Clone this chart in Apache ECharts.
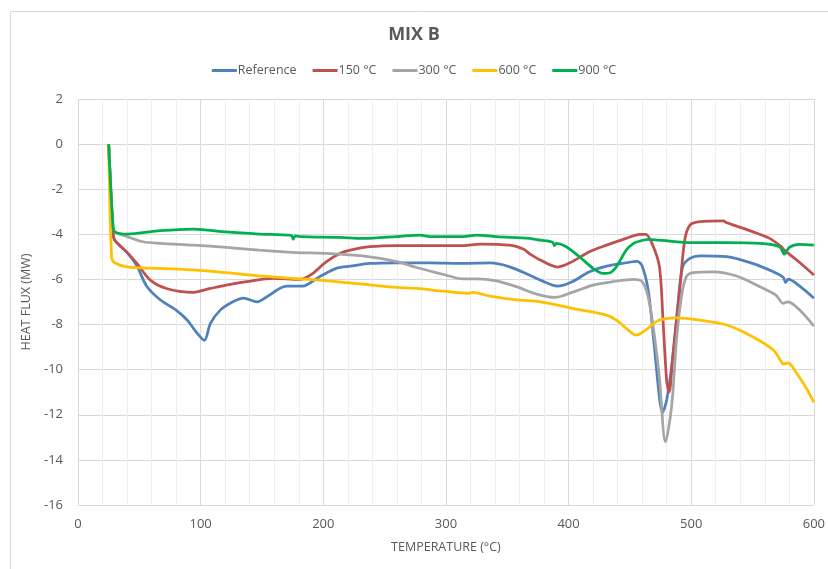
<!DOCTYPE html>
<html>
<head>
<meta charset="utf-8">
<script src="https://cdn.jsdelivr.net/npm/echarts@6/dist/echarts.min.js"></script>
<style>
  html, body { margin: 0; padding: 0; background: #fff; }
  #chart { width: 828px; height: 569px; }
</style>
</head>
<body>
<div id="chart"></div>
<script>
// Axis ranges and ticks
const xTicks = [0, 100, 200, 300, 400, 500, 600];
const yTicks = [-16, -14, -12, -10, -8, -6, -4, -2, 0, 2];

// Reference
const refTemp = [25, 28.5, 30, 40, 48, 56, 67, 80, 89, 96, 103, 108, 116, 126, 135, 146, 154, 170, 183, 197, 211, 222, 238, 260, 287, 314, 336, 352, 368, 377, 391, 403, 417, 431, 447, 456, 460, 465, 470, 474, 476.5, 480, 485, 489, 493, 499, 507, 529, 550, 567, 575, 577, 579, 589, 600];
const refFlux = [0, -3.9, -4.26, -4.8, -5.4, -6.3, -6.9, -7.36, -7.8, -8.3, -8.7, -7.95, -7.36, -7.0, -6.83, -6.99, -6.77, -6.3, -6.3, -5.88, -5.5, -5.41, -5.29, -5.26, -5.26, -5.29, -5.27, -5.44, -5.8, -6.03, -6.3, -6.1, -5.66, -5.41, -5.26, -5.2, -5.4, -6.5, -9.0, -11.2, -11.9, -11.35, -9.43, -7.2, -5.44, -5.07, -4.95, -4.99, -5.29, -5.66, -5.9, -6.14, -5.99, -6.32, -6.83];

// 150 °C
const t150Temp = [25, 28.5, 30, 40, 48, 59, 72, 94, 108, 121, 137.5, 159, 181, 191.5, 202.6, 213.5, 222, 238, 260, 287, 314, 328, 352, 363, 368, 377, 391, 403, 417, 431, 447, 458, 463, 468, 474, 477, 480, 482, 485, 490.6, 494.7, 499, 507, 526, 529, 550, 564, 573.5, 576, 586, 600];
const t150Flux = [0, -3.9, -4.26, -4.8, -5.29, -6.03, -6.4, -6.57, -6.4, -6.25, -6.1, -5.95, -6.0, -5.73, -5.21, -4.85, -4.7, -4.55, -4.5, -4.5, -4.5, -4.43, -4.48, -4.65, -4.85, -5.14, -5.45, -5.21, -4.77, -4.48, -4.18, -4.0, -4.0, -4.4, -5.4, -7.8, -10.5, -11.0, -9.4, -6.47, -4.26, -3.59, -3.44, -3.4, -3.49, -3.88, -4.18, -4.55, -4.7, -5.14, -5.8];

// 300 °C
const t300Temp = [25, 28.5, 30, 40, 53, 67, 94, 121, 148, 175, 205, 232, 260, 276, 298, 314, 325, 341, 357.5, 374, 389, 404, 420, 436, 453, 460, 465, 470, 474, 479, 484, 488, 492, 496, 501.5, 518, 537, 556, 569, 575, 579, 588.5, 600];
const t300Flux = [0, -3.6, -3.89, -4.1, -4.33, -4.4, -4.48, -4.58, -4.7, -4.8, -4.85, -4.96, -5.21, -5.47, -5.78, -5.98, -5.98, -6.06, -6.32, -6.65, -6.8, -6.55, -6.25, -6.1, -6.0, -6.1, -6.8, -8.5, -10.3, -13.2, -11.64, -8.69, -6.77, -5.88, -5.7, -5.66, -5.85, -6.32, -6.69, -7.06, -6.99, -7.36, -8.07];

// 600 °C
const t600Temp = [25, 27.4, 30, 40, 67, 94, 121, 148, 175, 203, 232, 260, 276, 298, 319, 322, 336, 358, 377, 404, 431, 439, 447, 455, 463, 471, 478, 488, 507, 529, 550, 567, 573.5, 575, 579, 586, 594, 600];
const t600Flux = [0, -5.0, -5.26, -5.44, -5.51, -5.58, -5.7, -5.84, -5.95, -6.06, -6.21, -6.35, -6.4, -6.52, -6.62, -6.57, -6.74, -6.91, -6.99, -7.29, -7.58, -7.8, -8.17, -8.47, -8.24, -7.88, -7.75, -7.7, -7.8, -8.02, -8.54, -9.13, -9.65, -9.75, -9.7, -10.16, -10.83, -11.45];

// 900 °C
const t900Temp = [25, 28.5, 30, 40, 67, 94, 121, 148, 174, 175.5, 177, 181, 213.5, 232, 260, 279, 287, 314, 325, 341, 368, 377, 387, 388.5, 390, 398, 409, 420, 428, 434, 439, 447, 453, 458, 465, 474, 501.5, 529, 556, 572, 576, 580, 588.5, 600];
const t900Flux = [0, -3.6, -3.89, -3.99, -3.84, -3.77, -3.89, -3.99, -4.05, -4.22, -4.07, -4.1, -4.14, -4.18, -4.1, -4.03, -4.1, -4.1, -4.03, -4.1, -4.18, -4.26, -4.35, -4.5, -4.4, -4.55, -5.0, -5.51, -5.73, -5.7, -5.44, -4.7, -4.4, -4.3, -4.22, -4.26, -4.37, -4.37, -4.4, -4.55, -4.88, -4.58, -4.45, -4.48];

const seriesNames = ['Reference', '150 °C', '300 °C', '600 °C', '900 °C'];
const seriesColors = ['#4F81BD', '#C0504D', '#A5A5A5', '#FFC000', '#00B050'];
const temps = [refTemp, t150Temp, t300Temp, t600Temp, t900Temp];
const fluxes = [refFlux, t150Flux, t300Flux, t600Flux, t900Flux];

const FONT = '"Open Sans", sans-serif';
const TEXT = '#595959';

const chart = echarts.init(document.getElementById('chart'), null, { renderer: 'canvas' });

const series = seriesNames.map((name, i) => ({
  name: name,
  type: 'line',
  data: temps[i].map((t, k) => [t, fluxes[i][k]]),
  smooth: 0.3,
  showSymbol: false,
  lineStyle: { color: seriesColors[i], width: 2.75 },
  itemStyle: { color: seriesColors[i] },
  z: 2 + i
}));

chart.setOption({
  animation: false,
  backgroundColor: '#fff',
  graphic: [{
    type: 'rect',
    left: 8, top: 9,
    shape: { width: 900, height: 700 },
    style: { fill: 'none', stroke: '#D9D9D9', lineWidth: 1 },
    silent: true, z: -1
  }],
  title: {
    text: 'MIX B',
    left: 'center',
    top: 21,
    textStyle: { fontFamily: FONT, fontSize: 18, fontWeight: 'bold', color: TEXT }
  },
  legend: {
    top: 59,
    left: 'center',
    icon: 'rect',
    itemWidth: 25,
    itemHeight: 3,
    itemGap: 16,
    textStyle: { fontFamily: FONT, fontSize: 12.5, color: TEXT, padding: [0, 0, 0, -4] },
    data: seriesNames
  },
  grid: { left: 78, right: 14, top: 99, bottom: 64, containLabel: false },
  xAxis: {
    type: 'value',
    min: xTicks[0],
    max: xTicks[xTicks.length - 1],
    interval: 100,
    name: 'TEMPERATURE (°C)',
    nameLocation: 'middle',
    nameGap: 36,
    nameTextStyle: { fontFamily: FONT, fontSize: 12.5, color: TEXT },
    axisLine: { show: false },
    axisTick: { show: false },
    axisLabel: { fontFamily: FONT, fontSize: 13, color: TEXT, margin: 13 },
    splitLine: { show: true, lineStyle: { color: '#D9D9D9', width: 1 } },
    minorTick: { show: false, splitNumber: 5 },
    minorSplitLine: { show: true, lineStyle: { color: '#EFEFEF', width: 1 } }
  },
  yAxis: {
    type: 'value',
    min: yTicks[0],
    max: yTicks[yTicks.length - 1],
    interval: 2,
    name: 'HEAT FLUX (MW)',
    nameLocation: 'middle',
    nameGap: 32,
    nameRotate: 90,
    nameTextStyle: { fontFamily: FONT, fontSize: 12.5, color: TEXT },
    axisLine: { show: false },
    axisTick: { show: false },
    axisLabel: { fontFamily: FONT, fontSize: 13, color: TEXT, margin: 15 },
    splitLine: { show: true, lineStyle: { color: '#D9D9D9', width: 1 } }
  },
  series: series
});
</script>
</body>
</html>
